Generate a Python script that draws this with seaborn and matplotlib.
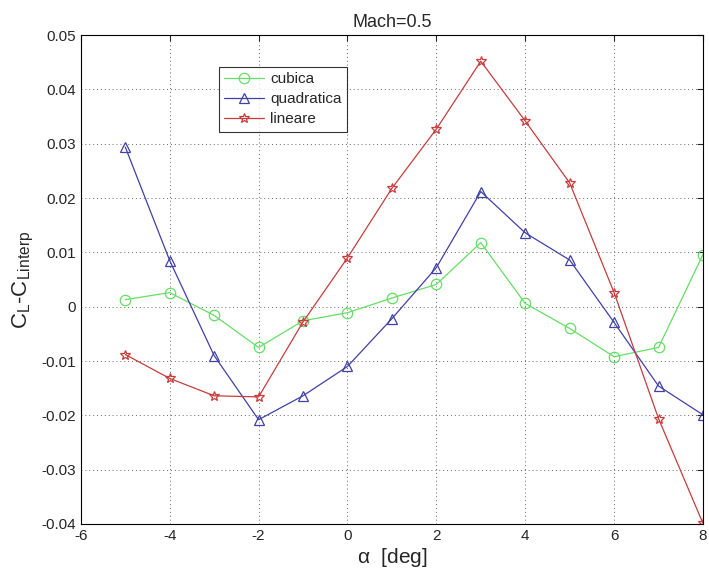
import numpy as np
import pandas as pd
import matplotlib
matplotlib.use("Agg")
import matplotlib.pyplot as plt
import seaborn as sns

alpha = [-5, -4, -3, -2, -1, 0, 1, 2, 3, 4, 5, 6, 7, 8]
cubica = [0.0013, 0.0026, -0.0016, -0.0075, -0.0026, -0.0011, 0.0016, 0.0041,
          0.0118, 0.0006, -0.0040, -0.0092, -0.0075, 0.0096]
quadratica = [0.0294, 0.0085, -0.0090, -0.0208, -0.0164, -0.0110, -0.0022, 0.0072,
              0.0212, 0.0136, 0.0086, -0.0029, -0.0146, -0.0199]
lineare = [-0.0088, -0.0132, -0.0164, -0.0166, -0.0028, 0.0090, 0.0218, 0.0327,
           0.0452, 0.0342, 0.0228, 0.0026, -0.0206, -0.0399]
names = ["cubica", "quadratica", "lineare"]
xticks = [-6, -4, -2, 0, 2, 4, 6, 8]
yticks = [-0.04, -0.03, -0.02, -0.01, 0, 0.01, 0.02, 0.03, 0.04, 0.05]
ytick_labels = ["-0.04", "-0.03", "-0.02", "-0.01", "0", "0.01", "0.02", "0.03", "0.04", "0.05"]

series = {"cubica": cubica, "quadratica": quadratica, "lineare": lineare}

sns.set_style("white")
plt.rcParams["font.family"] = ["Liberation Sans", "DejaVu Sans"]
plt.rcParams["mathtext.fontset"] = "custom"
plt.rcParams["mathtext.rm"] = "Liberation Sans"
plt.rcParams["mathtext.it"] = "Liberation Sans"

fig = plt.figure(figsize=(7.09, 5.76), dpi=100)
ax = fig.add_axes([0.114, 0.0903, 0.8775, 0.8487])

palette = {"cubica": "#66dd66", "quadratica": "#4040a8", "lineare": "#c83c3c"}
markers = {"cubica": "o", "quadratica": "^", "lineare": "*"}
msizes = {"cubica": 7.5, "quadratica": 7.5, "lineare": 7.5}
for n in names:
    sns.lineplot(x=alpha, y=series[n], ax=ax, color=palette[n], label=n,
                 linewidth=0.9, marker=markers[n], markersize=msizes[n],
                 markerfacecolor="none", markeredgecolor=palette[n],
                 markeredgewidth=0.9)
for line in ax.lines:
    c = line.get_color()
    line.set_markeredgecolor(c)
    line.set_markerfacecolor("none")

ax.set_xlim(-6, 8)
ax.set_ylim(-0.04, 0.05)
ax.set_xticks(xticks)
ax.set_xticklabels([str(t) for t in xticks], fontsize=11)
ax.set_yticks(yticks)
ax.set_yticklabels(ytick_labels, fontsize=11)
ax.grid(True, linestyle=(0, (1, 3)), color="#666666", linewidth=0.7)
ax.tick_params(direction="in", length=4, top=True, right=True, width=0.8)
for s in ax.spines.values():
    s.set_color("black")
    s.set_linewidth(0.8)

ax.set_title("Mach=0.5", fontsize=13, pad=6)
ax.set_xlabel(r"$\alpha$  [deg]", fontsize=15, labelpad=2)
ax.set_ylabel(r"C$_L$-C$_{Linterp}$", fontsize=16, labelpad=4)

leg = ax.legend(loc="upper left", bbox_to_anchor=(0.222, 0.935), fontsize=11,
                frameon=True, fancybox=False, edgecolor="black",
                handlelength=2.6, borderpad=0.35, labelspacing=0.4,
                handletextpad=0.4, borderaxespad=0)
leg.get_frame().set_linewidth(0.8)
for h in leg.legend_handles:
    h.set_markerfacecolor("none")
    h.set_markeredgecolor(h.get_color())

fig.savefig("out.png", dpi=100)
